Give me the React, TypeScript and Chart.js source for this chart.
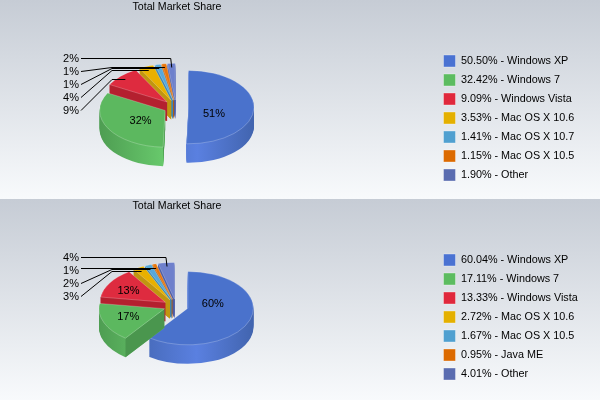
import React, { useEffect, useRef } from "react";
import { Chart, registerables } from "chart.js";

Chart.register(...registerables);

const titleText = "Total Market Share";

const categoriesTop = ["Windows XP", "Windows 7", "Windows Vista", "Mac OS X 10.6", "Mac OS X 10.7", "Mac OS X 10.5", "Other"];
const valuesTop = [50.5, 32.42, 9.09, 3.53, 1.41, 1.15, 1.9];

const categoriesBottom = ["Windows XP", "Windows 7", "Windows Vista", "Mac OS X 10.6", "Mac OS X 10.5", "Java ME", "Other"];
const valuesBottom = [60.04, 17.11, 13.33, 2.72, 1.67, 0.95, 4.01];

const sliceColors = ["#4a72cc", "#5cb85f", "#de2b3f", "#e8b000", "#56a8dc", "#e8760c", "#6e80cc"];
const swatchColors = ["#4a72d2", "#5cbc60", "#e0283c", "#e4b000", "#50a0d0", "#dc6a00", "#5a6cb0"];
const wallDark = ["#3c5ea4", "#4a964e", "#b4202f", "#c09610", "#3f86b0", "#b85c08", "#4c5ca4"];
const wallLight = ["#5a80e0", "#6cd070", "#c42236", "#c8a010", "#4c98c8", "#d06a08", "#5a6cb8"];

const CX = 176;
const CY = 107;
const TITLE_CENTER = 177;
const RADIUS = 66;
const SQUASH = 0.56;
const DEPTH = 19;
const EXPLODE = 12.5;
const LEADER_T = 0.9;
const FONT = "'Liberation Sans', Arial, sans-serif";

// Nudges of the inside labels from their computed spot, by slice index.
const insideNudgeTop: Record<number, [number, number]> = { 0: [-4, 7], 1: [1, 2] };
const insideNudgeBottom: Record<number, [number, number]> = { 0: [-3, -9], 1: [-9, 2], 2: [-12, -2] };

function geometry(arc: any) {
  const mid = (arc.startAngle + arc.endAngle) / 2;
  const ex = Math.cos(mid) * EXPLODE;
  const ey = Math.sin(mid) * EXPLODE * SQUASH;
  return { mid, ax: arc.x + ex, ay: CY + ey, r: arc.outerRadius, ex, ey };
}

function threeDPlugin(nudges: Record<number, [number, number]>) {
  return {
    id: "threeD",
    afterLayout(chart: any) {
      const half = RADIUS;
      chart.chartArea = {
        left: CX - half, right: CX + half, top: CY - half, bottom: CY + half,
        width: half * 2, height: half * 2,
      };
      const t = chart.titleBlock;
      if (t) { t.left = 0; t.right = TITLE_CENTER * 2; t.width = TITLE_CENTER * 2; t.top = 1; }
      const l = chart.legend;
      if (l) { l.left = 436.5; l.right = 600; l.top = 48; l.bottom = chart.height; }
    },
    beforeDatasetDraw(chart: any, args: any) {
      const ctx = chart.ctx;
      const arcs = [...args.meta.data].map((a: any, i: number) => ({ a, i }));
      arcs.sort((p: any, q: any) => geometry(p.a).ay - geometry(q.a).ay);
      for (const { a, i } of arcs) {
        const g = geometry(a);
        const grad = ctx.createLinearGradient(CX - RADIUS - 10, 0, CX + RADIUS + 12, 0);
        grad.addColorStop(0, wallDark[i]);
        grad.addColorStop(0.55, wallLight[i]);
        grad.addColorStop(1, wallDark[i]);
        for (let d = DEPTH; d >= 1; d--) {
          ctx.save();
          ctx.translate(CX + g.ex, CY + g.ey + d);
          ctx.scale(1, SQUASH);
          ctx.translate(-a.x, -a.y);
          ctx.beginPath();
          ctx.moveTo(a.x, a.y);
          ctx.arc(a.x, a.y, a.outerRadius, a.startAngle, a.endAngle);
          ctx.closePath();
          ctx.fillStyle = grad;
          ctx.fill();
          ctx.restore();
        }
        // The cut face along the slice's starting edge, when it faces the viewer.
        if (Math.cos(a.startAngle) < -0.01) {
          const px = g.ax + a.outerRadius * Math.cos(a.startAngle);
          const py = g.ay + a.outerRadius * Math.sin(a.startAngle) * SQUASH;
          ctx.beginPath();
          ctx.moveTo(g.ax, g.ay);
          ctx.lineTo(px, py);
          ctx.lineTo(px, py + DEPTH);
          ctx.lineTo(g.ax, g.ay + DEPTH);
          ctx.closePath();
          ctx.fillStyle = wallDark[i];
          ctx.fill();
        }
        ctx.save();
        ctx.translate(CX + g.ex, CY + g.ey);
        ctx.scale(1, SQUASH);
        ctx.translate(-a.x, -a.y);
        a.draw(ctx);
        ctx.restore();
      }
      return false;
    },
    afterDatasetsDraw(chart: any) {
      const ctx = chart.ctx;
      const meta = chart.getDatasetMeta(0);
      const values: number[] = chart.data.datasets[0].data;
      ctx.save();
      ctx.font = `11px ${FONT}`;
      ctx.fillStyle = "#000";
      ctx.strokeStyle = "#000";
      ctx.lineWidth = 1;
      ctx.textBaseline = "middle";
      const small: number[] = [];
      values.forEach((v, i) => {
        if (v >= 10) {
          const g = geometry(meta.data[i]);
          const n = nudges[i] || [0, 0];
          const x = g.ax + Math.cos(g.mid) * g.r * 0.45 + n[0];
          const y = g.ay + Math.sin(g.mid) * g.r * 0.45 * SQUASH + n[1];
          ctx.textAlign = "center";
          ctx.fillText(`${Math.round(v)}%`, x, y);
        } else small.push(i);
      });
      small.forEach((idx, k) => {
        const ty = 58.7 + (small.length - 1 - k) * 13;
        const ly = Math.round(ty - 0.7) + 0.5;
        const g = geometry(meta.data[idx]);
        const ex = g.ax + Math.cos(g.mid) * g.r * LEADER_T;
        const ey = Math.round(g.ay + Math.sin(g.mid) * g.r * LEADER_T * SQUASH) + 0.5;
        ctx.textAlign = "right";
        ctx.fillText(`${Math.round(values[idx])}%`, 79, ty);
        ctx.beginPath();
        if (ly < ey - 4) {
          ctx.moveTo(81, ly);
          ctx.lineTo(ex - 1, ly);
          ctx.lineTo(ex, ey);
        } else if (ly < ey + 4) {
          ctx.moveTo(81, ey);
          ctx.lineTo(ex, ey);
        } else {
          ctx.moveTo(81, ly);
          ctx.lineTo(112, ey);
          ctx.lineTo(ex, ey);
        }
        ctx.stroke();
      });
      ctx.restore();
    },
  };
}

function Pie({ categories, values, height, nudges }: { categories: string[]; values: number[]; height: number; nudges: Record<number, [number, number]> }) {
  const ref = useRef<HTMLCanvasElement | null>(null);
  useEffect(() => {
    const chart = new Chart(ref.current as HTMLCanvasElement, {
      type: "pie",
      data: {
        labels: categories,
        datasets: [{
          data: values,
          backgroundColor: sliceColors,
          borderColor: "rgba(255,255,255,0.3)",
          borderWidth: 1,
        }],
      },
      options: {
        responsive: false,
        animation: false,
        plugins: {
          tooltip: { enabled: false },
          title: {
            display: true,
            text: titleText,
            color: "#000",
            padding: 0,
            font: { family: FONT, size: 10.6, weight: "normal", lineHeight: 1.1 },
          },
          legend: {
            position: "right",
            align: "start",
            labels: {
              boxWidth: 12,
              boxHeight: 12,
              padding: 7,
              color: "#000",
              font: { family: FONT, size: 10.8 },
              generateLabels: () =>
                categories.map((c, i) => ({
                  text: `${values[i].toFixed(2)}% - ${c}`,
                  fillStyle: swatchColors[i],
                  strokeStyle: "rgba(255,255,255,0.35)",
                  lineWidth: 1,
                  index: i,
                })),
            },
          },
        },
      } as any,
      plugins: [threeDPlugin(nudges) as any],
    });
    return () => chart.destroy();
  }, []);
  return (
    <div style={{ width: 600, height, background: "linear-gradient(#c6ccd5, #f8fafc)" }}>
      <canvas ref={ref} width={600} height={height} style={{ display: "block" }} />
    </div>
  );
}

export default function App() {
  return (
    <div style={{ position: "absolute", left: 0, top: 0, width: 600, height: 400 }}>
      <Pie categories={categoriesTop} values={valuesTop} height={199} nudges={insideNudgeTop} />
      <Pie categories={categoriesBottom} values={valuesBottom} height={201} nudges={insideNudgeBottom} />
    </div>
  );
}
